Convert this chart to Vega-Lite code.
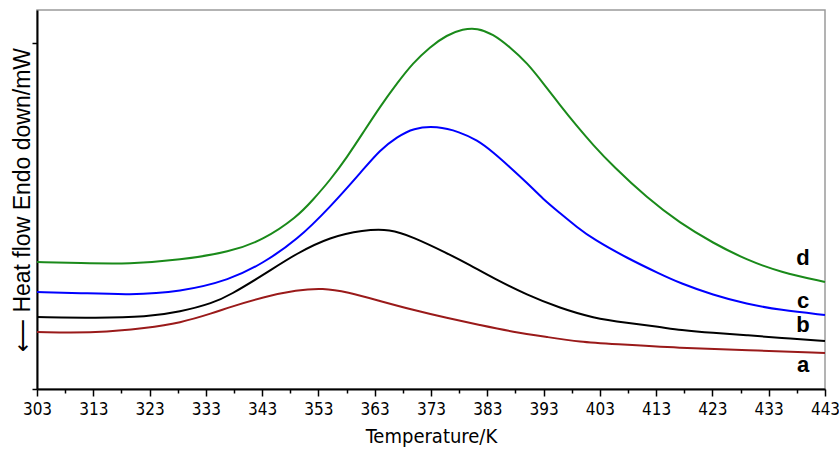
{
  "$schema": "https://vega.github.io/schema/vega-lite/v6.json",
  "width": 788,
  "height": 379,
  "autosize": {"type": "none"},
  "padding": {"left": 37, "top": 10, "right": 14, "bottom": 69},
  "background": "white",
  "config": {
    "view": {"stroke": "#9a9a9a", "strokeWidth": 1.5},
    "font": "Liberation Sans"
  },
  "datasets": {
    "curves": [
      {"s": "d", "T": 303.0, "v": 127}, {"s": "d", "T": 310.6, "v": 126}, {"s": "d", "T": 319.5, "v": 125}, {"s": "d", "T": 328.4, "v": 129}, {"s": "d", "T": 337.3, "v": 137}, {"s": "d", "T": 343.2, "v": 149}, {"s": "d", "T": 349.2, "v": 172}, {"s": "d", "T": 352.0, "v": 189}, {"s": "d", "T": 355.1, "v": 209}, {"s": "d", "T": 358.1, "v": 232}, {"s": "d", "T": 360.9, "v": 256}, {"s": "d", "T": 363.9, "v": 282}, {"s": "d", "T": 367.0, "v": 306}, {"s": "d", "T": 369.8, "v": 326}, {"s": "d", "T": 372.8, "v": 342}, {"s": "d", "T": 375.8, "v": 354}, {"s": "d", "T": 378.7, "v": 360}, {"s": "d", "T": 381.2, "v": 361}, {"s": "d", "T": 384.0, "v": 355}, {"s": "d", "T": 387.0, "v": 342}, {"s": "d", "T": 390.1, "v": 326}, {"s": "d", "T": 392.9, "v": 306}, {"s": "d", "T": 395.9, "v": 284}, {"s": "d", "T": 398.9, "v": 263}, {"s": "d", "T": 401.8, "v": 244}, {"s": "d", "T": 405.3, "v": 223}, {"s": "d", "T": 411.4, "v": 191}, {"s": "d", "T": 417.2, "v": 166}, {"s": "d", "T": 423.1, "v": 146}, {"s": "d", "T": 429.1, "v": 129}, {"s": "d", "T": 435.0, "v": 117}, {"s": "d", "T": 443.0, "v": 107},
      {"s": "c", "T": 303.0, "v": 97}, {"s": "c", "T": 310.6, "v": 96}, {"s": "c", "T": 319.5, "v": 94}, {"s": "c", "T": 328.4, "v": 97}, {"s": "c", "T": 337.3, "v": 109}, {"s": "c", "T": 343.2, "v": 126}, {"s": "c", "T": 349.2, "v": 149}, {"s": "c", "T": 355.1, "v": 182}, {"s": "c", "T": 360.9, "v": 219}, {"s": "c", "T": 363.9, "v": 239}, {"s": "c", "T": 367.0, "v": 252}, {"s": "c", "T": 369.8, "v": 261}, {"s": "c", "T": 374.1, "v": 263}, {"s": "c", "T": 378.1, "v": 257}, {"s": "c", "T": 381.2, "v": 249}, {"s": "c", "T": 384.0, "v": 237}, {"s": "c", "T": 387.0, "v": 222}, {"s": "c", "T": 390.1, "v": 206}, {"s": "c", "T": 392.9, "v": 190}, {"s": "c", "T": 395.9, "v": 176}, {"s": "c", "T": 398.9, "v": 162}, {"s": "c", "T": 401.8, "v": 150}, {"s": "c", "T": 407.8, "v": 131}, {"s": "c", "T": 413.7, "v": 115}, {"s": "c", "T": 417.2, "v": 106}, {"s": "c", "T": 423.1, "v": 94}, {"s": "c", "T": 429.1, "v": 85}, {"s": "c", "T": 435.0, "v": 79}, {"s": "c", "T": 443.0, "v": 74},
      {"s": "b", "T": 303.0, "v": 72}, {"s": "b", "T": 313.7, "v": 71}, {"s": "b", "T": 322.5, "v": 72}, {"s": "b", "T": 328.4, "v": 77}, {"s": "b", "T": 334.3, "v": 86}, {"s": "b", "T": 337.3, "v": 94}, {"s": "b", "T": 343.2, "v": 114}, {"s": "b", "T": 349.2, "v": 136}, {"s": "b", "T": 355.1, "v": 152}, {"s": "b", "T": 360.9, "v": 159}, {"s": "b", "T": 365.7, "v": 160}, {"s": "b", "T": 369.8, "v": 152}, {"s": "b", "T": 375.8, "v": 136}, {"s": "b", "T": 379.9, "v": 124}, {"s": "b", "T": 384.0, "v": 111}, {"s": "b", "T": 390.1, "v": 94}, {"s": "b", "T": 395.9, "v": 81}, {"s": "b", "T": 401.8, "v": 71}, {"s": "b", "T": 407.8, "v": 66}, {"s": "b", "T": 413.7, "v": 62}, {"s": "b", "T": 417.2, "v": 59}, {"s": "b", "T": 423.1, "v": 56}, {"s": "b", "T": 429.1, "v": 54}, {"s": "b", "T": 435.0, "v": 51}, {"s": "b", "T": 443.0, "v": 48},
      {"s": "a", "T": 303.0, "v": 57}, {"s": "a", "T": 313.7, "v": 56}, {"s": "a", "T": 322.5, "v": 61}, {"s": "a", "T": 328.4, "v": 66}, {"s": "a", "T": 334.3, "v": 76}, {"s": "a", "T": 337.3, "v": 82}, {"s": "a", "T": 343.2, "v": 92}, {"s": "a", "T": 349.2, "v": 99}, {"s": "a", "T": 353.8, "v": 101}, {"s": "a", "T": 358.1, "v": 97}, {"s": "a", "T": 363.9, "v": 88}, {"s": "a", "T": 369.8, "v": 79}, {"s": "a", "T": 375.8, "v": 71}, {"s": "a", "T": 381.7, "v": 64}, {"s": "a", "T": 387.6, "v": 57}, {"s": "a", "T": 393.6, "v": 52}, {"s": "a", "T": 399.5, "v": 47}, {"s": "a", "T": 405.3, "v": 45}, {"s": "a", "T": 417.2, "v": 41}, {"s": "a", "T": 429.1, "v": 39}, {"s": "a", "T": 443.0, "v": 36}
    ],
    "labels": [
      {"s": "d", "T": 439.1, "v": 124},
      {"s": "c", "T": 439.1, "v": 81},
      {"s": "b", "T": 439.1, "v": 57},
      {"s": "a", "T": 439.1, "v": 17}
    ]
  },
  "encoding": {
    "x": {
      "field": "T", "type": "quantitative",
      "scale": {"domain": [303, 443], "nice": false, "zero": false},
      "axis": {
        "title": "Temperature/K",
        "values": [303, 308, 313, 318, 323, 328, 333, 338, 343, 348, 353, 358, 363, 368, 373, 378, 383, 388, 393, 398, 403, 408, 413, 418, 423, 428, 433, 438, 443],
        "labelExpr": "(datum.value - 303) % 10 == 0 ? datum.label : ''",
        "tickSize": {"condition": {"test": "(datum.value - 303) % 10 == 0", "value": 7}, "value": 4},
        "tickColor": "black", "tickWidth": 1.5,
        "domainColor": "black", "domainWidth": 2,
        "grid": false,
        "labelFont": "DejaVu Sans Condensed, Liberation Sans", "labelFontSize": 17, "labelColor": "black", "labelPadding": 5,
        "labelOverlap": false, "labelFlush": false,
        "titleFont": "DejaVu Sans Condensed, Liberation Sans", "titleFontSize": 20, "titleFontWeight": "normal", "titleColor": "black", "titlePadding": 9
      }
    },
    "y": {
      "field": "v", "type": "quantitative",
      "scale": {"domain": [0, 379], "nice": false, "zero": false},
      "axis": {
        "title": "⟵  Heat flow Endo down/mW",
        "values": [0, 346],
        "labels": false,
        "tickSize": 5, "tickColor": "black", "tickWidth": 1.5,
        "domainColor": "black", "domainWidth": 2,
        "grid": false,
        "titleFont": "Liberation Sans", "titleFontSize": 23, "titleFontWeight": "normal", "titleColor": "black", "titlePadding": -3
      }
    }
  },
  "layer": [
    {
      "data": {"name": "curves"},
      "mark": {"type": "line", "strokeWidth": 2, "interpolate": "basis"},
      "encoding": {
        "detail": {"field": "s"},
        "color": {
          "field": "s", "type": "nominal", "legend": null,
          "scale": {"domain": ["a", "b", "c", "d"], "range": ["#9a1a1a", "#000000", "#0000ff", "#1a8a1a"]}
        }
      }
    },
    {
      "data": {"name": "labels"},
      "mark": {"type": "text", "font": "Liberation Sans", "fontSize": 22, "fontWeight": "bold", "align": "center", "baseline": "alphabetic", "color": "black"},
      "encoding": {"text": {"field": "s"}}
    }
  ]
}
